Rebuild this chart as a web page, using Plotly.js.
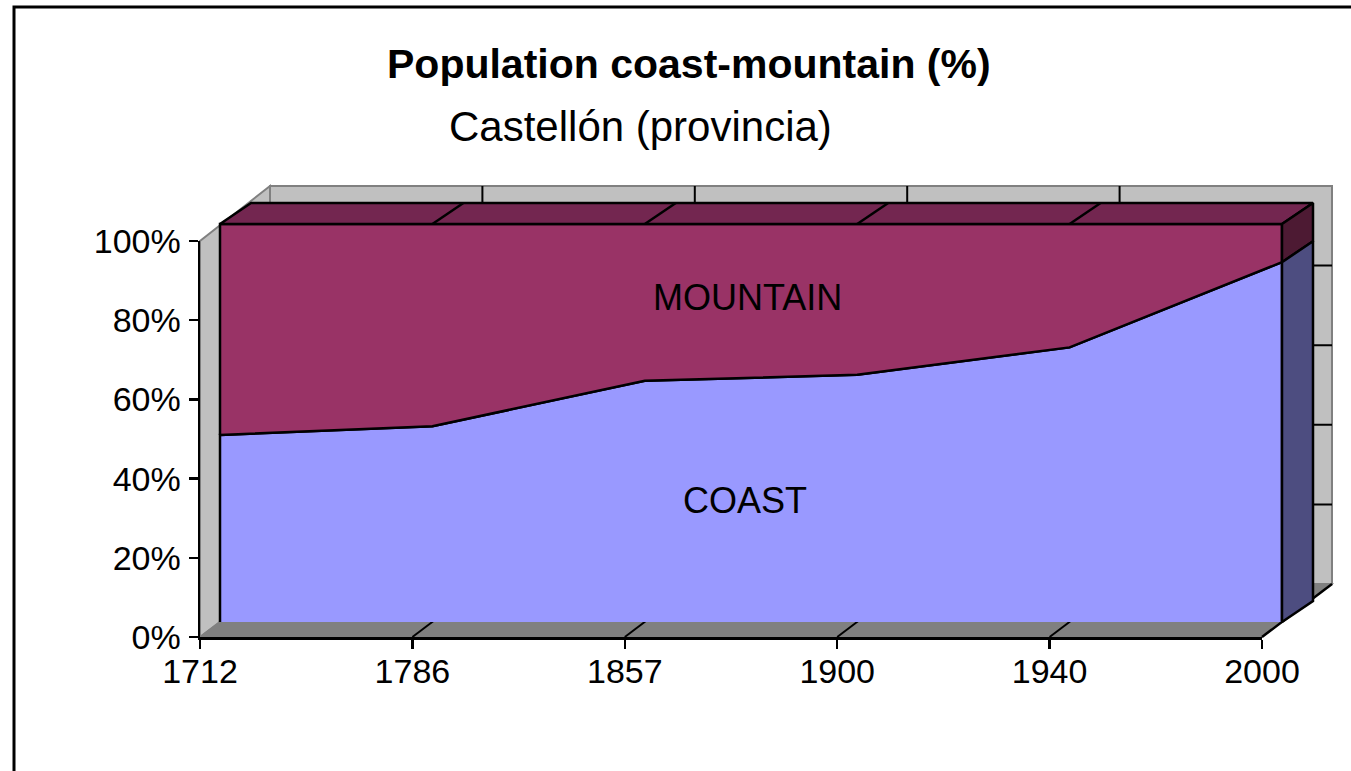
<!DOCTYPE html>
<html>
<head>
<meta charset="utf-8">
<script src="https://cdn.plot.ly/plotly-3.0.1.min.js"></script>
<style>html,body{margin:0;padding:0;background:#fff;}#chart{width:1351px;height:771px;}</style>
</head>
<body>
<div id="chart"></div>
<script>
// ---- data ----
const years = ["1712", "1786", "1857", "1900", "1940", "2000"];
const coast = [47.0, 49.2, 60.6, 62.1, 69.0, 90.4];
const mountain = [53.0, 50.8, 39.4, 37.9, 31.0, 9.6];
const yTicks = [0, 20, 40, 60, 80, 100];

// ---- style / geometry constants (3D projection, in data units of the hidden axis) ----
const W = 1351, H = 771;
const PX_CAT = 212.4, PX_VAL = 3.98;      // pixels per category / per percent on front face
const X0PX = 220, Y0PX = 622;              // front face origin
const AX = 31 / PX_CAT, AY = 21 / PX_VAL;  // depth of the area
const WX = 50 / PX_CAT, WY = (Y0PX - 584) / PX_VAL;  // back wall offset
const FX = -20 / PX_CAT, FY = (Y0PX - 637) / PX_VAL; // axis frame offset
const FTOP = (Y0PX - 241) / PX_VAL;
const n = years.length, last = n - 1;
const idx = years.map((_, i) => i);
const total = coast.map((c, i) => c + mountain[i]);

const C_COAST = "#9999FF", C_MOUNT = "#993366";
const C_MOUNT_TOP = "#732650", C_MOUNT_SIDE = "#4D1A33", C_COAST_SIDE = "#4D4D80";

function path(pts) { return "M " + pts.map(p => p[0] + "," + p[1]).join(" L ") + " Z"; }

const traces = [];
// coast front face
traces.push({
  x: [0].concat(idx, [last]), y: [0].concat(coast, [0]),
  type: "scatter", mode: "lines", fill: "toself", fillcolor: C_COAST,
  line: {color: "#000", width: 2.5}, hoverinfo: "skip", showlegend: false, xaxis: "x", yaxis: "y"
});
// mountain front face (stacked on coast)
traces.push({
  x: idx.concat([last], idx.slice().reverse(), [0]),
  y: coast.concat([total[last]], total.slice().reverse(), [coast[0]]),
  type: "scatter", mode: "lines", fill: "toself", fillcolor: C_MOUNT,
  line: {color: "#000", width: 2.5}, hoverinfo: "skip", showlegend: false, xaxis: "x", yaxis: "y"
});
// top face of mountain
traces.push({
  x: idx.concat(idx.slice().reverse().map(i => i + AX), [0]),
  y: total.concat(total.slice().reverse().map(v => v + AY), [total[0]]),
  type: "scatter", mode: "lines", fill: "toself", fillcolor: C_MOUNT_TOP,
  line: {color: "#000", width: 2.5}, hoverinfo: "skip", showlegend: false
});
// top face segment edges
const ex = [], ey = [];
idx.slice(1, last).forEach(i => { ex.push(i, i + AX, null); ey.push(total[i], total[i] + AY, null); });
traces.push({x: ex, y: ey, type: "scatter", mode: "lines", line: {color: "#000", width: 2.5}, hoverinfo: "skip", showlegend: false});
// right side faces
traces.push({
  x: [last, last + AX, last + AX, last, last],
  y: [total[last], total[last] + AY, coast[last] + AY, coast[last], total[last]],
  type: "scatter", mode: "lines", fill: "toself", fillcolor: C_MOUNT_SIDE,
  line: {color: "#000", width: 2.5}, hoverinfo: "skip", showlegend: false
});
traces.push({
  x: [last, last + AX, last + AX, last, last],
  y: [coast[last], coast[last] + AY, AY, 0, coast[last]],
  type: "scatter", mode: "lines", fill: "toself", fillcolor: C_COAST_SIDE,
  line: {color: "#000", width: 2.5}, hoverinfo: "skip", showlegend: false
});

// ---- walls, floor, gridlines (decoration shapes on hidden data axes) ----
const shapes = [];
const S = (o) => Object.assign({xref: "x", yref: "y", layer: "below"}, o);
// back wall
shapes.push(S({type: "rect", x0: WX, x1: last + WX, y0: WY, y1: 100 + WY, fillcolor: "#C0C0C0", line: {color: "#808080", width: 2}}));
// left wall
shapes.push(S({type: "path", path: path([[FX, FY], [FX, FTOP], [WX, 100 + WY], [WX, WY]]), fillcolor: "#C0C0C0", line: {color: "#808080", width: 2}}));
// floor
shapes.push(S({type: "path", path: path([[FX, FY], [last + FX, FY], [last + WX, WY], [WX, WY]]), fillcolor: "#808080", line: {color: "#808080", width: 1.5}}));
shapes.push(S({type: "line", x0: last + FX, y0: FY, x1: last + WX, y1: WY, line: {color: "#000", width: 2.5}}));
// back-wall horizontal gridlines
yTicks.slice(1, -1).forEach(v => shapes.push(S({type: "line", x0: WX, x1: last + WX, y0: v + WY, y1: v + WY, line: {color: "#000", width: 2}})));
// back-wall vertical gridlines and floor diagonals
idx.slice(1, last).forEach(i => {
  shapes.push(S({type: "line", x0: i + WX, x1: i + WX, y0: WY, y1: 100 + WY, line: {color: "#000", width: 2}}));
  shapes.push(S({type: "line", x0: i + FX, x1: i + WX, y0: FY, y1: WY, line: {color: "#000", width: 2}}));
});
// outer frame
shapes.push({type: "rect", xref: "paper", yref: "paper", x0: 14 / W, y0: -0.05, x1: 1.05, y1: 1 - 7 / H, line: {color: "#000", width: 3}, fillcolor: "rgba(0,0,0,0)", layer: "above"});

const FONT = "Liberation Sans, Arial, sans-serif";
const ann = (t, px, py, size, bold) => ({
  text: bold ? "<b>" + t + "</b>" : t, x: px / W, y: 1 - py / H, xref: "paper", yref: "paper",
  xanchor: "center", yanchor: "middle", showarrow: false, font: {family: FONT, size: size, color: "#000"}
});

const layout = {
  width: W, height: H, margin: {l: 0, r: 0, t: 0, b: 0, pad: 0},
  paper_bgcolor: "#fff", plot_bgcolor: "rgba(0,0,0,0)", showlegend: false,
  xaxis: {domain: [0, 1], range: [-X0PX / PX_CAT, (W - X0PX) / PX_CAT], visible: false, fixedrange: true},
  yaxis: {domain: [0, 1], range: [-(H - Y0PX) / PX_VAL, Y0PX / PX_VAL], visible: false, fixedrange: true},
  xaxis2: {
    domain: [200 / W, 1262 / W], range: [0, last], anchor: "y2",
    tickmode: "array", tickvals: idx, ticktext: years,
    showline: true, linecolor: "#000", linewidth: 2.5, ticks: "outside", ticklen: 9, tickwidth: 2.5, tickcolor: "#000",
    showgrid: false, zeroline: false, ticklabelstandoff: -6,
    tickfont: {family: FONT, size: 34, color: "#000"}
  },
  yaxis2: {
    domain: [(H - 637) / H, (H - 241) / H], range: [0, 100], anchor: "x2",
    tickmode: "array", tickvals: yTicks, ticktext: yTicks.map(v => v + "%"),
    showline: true, linecolor: "#000", linewidth: 2.5, ticks: "outside", ticklen: 9, tickwidth: 2.5, tickcolor: "#000",
    showgrid: false, zeroline: false, ticklabelstandoff: 1,
    tickfont: {family: FONT, size: 34, color: "#000"}
  },
  shapes: shapes,
  annotations: [
    ann("Population coast-mountain (%)", 689, 64, 41, true),
    ann("Castellón (provincia)", 640, 127, 42, false),
    ann("MOUNTAIN", 747, 298, 36, false),
    ann("COAST", 745, 500, 36, false)
  ]
};
// dummy invisible trace so the frame subplot exists
traces.push({x: [0], y: [0], xaxis: "x2", yaxis: "y2", type: "scatter", mode: "markers", marker: {opacity: 0}, hoverinfo: "skip", showlegend: false});

Plotly.newPlot("chart", traces, layout, {staticPlot: true, displayModeBar: false});
</script>
</body>
</html>
